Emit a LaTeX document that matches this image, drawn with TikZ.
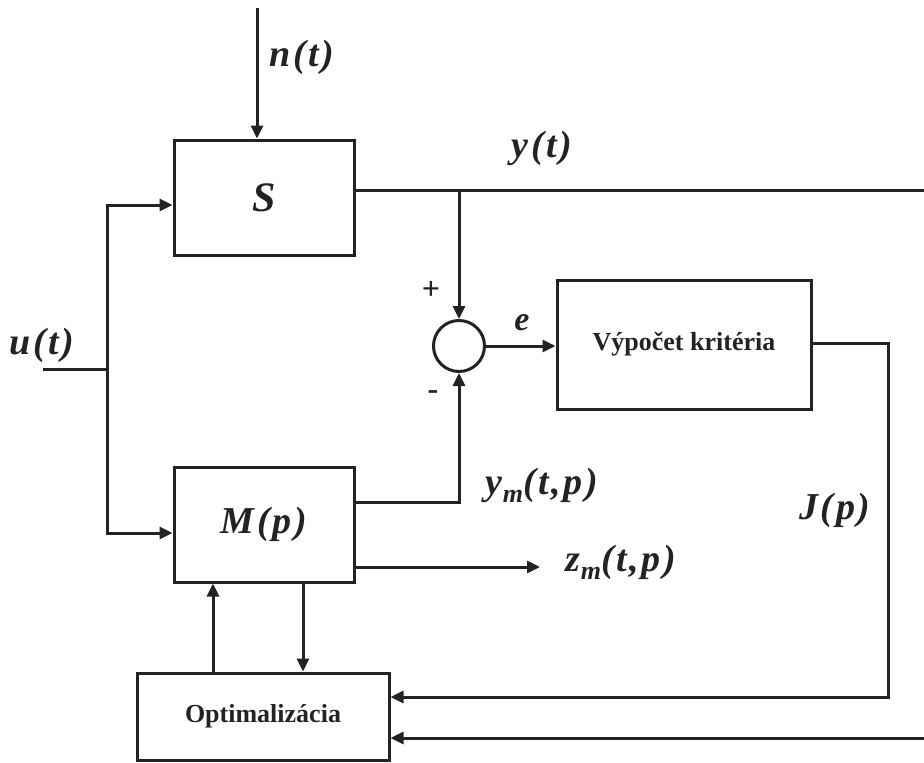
\documentclass[tikz,border=0pt]{standalone}
\usepackage{fontspec}
\setmainfont{Liberation Serif}
\usetikzlibrary{arrows.meta}
\definecolor{ink}{RGB}{35,35,35}
\newcommand{\lblfont}{\fontsize{38}{42}\selectfont\bfseries\itshape\addfontfeature{LetterSpace=7}}
\newcommand{\subm}{\raisebox{-0.22em}{\fontsize{26}{26}\selectfont m}}
\begin{document}
\begin{tikzpicture}[x=1pt,y=-1pt,
  every path/.style={draw=ink, line width=3pt},
  arr/.style={-{Triangle[length=13pt,width=12pt]}},
  blk/.style={draw=ink, line width=3pt, rectangle, inner sep=0pt, text=ink},
  lbl/.style={inner sep=0pt, text=ink, font=\lblfont},
  sgn/.style={inner sep=0pt, text=ink, font=\fontsize{32}{34}\selectfont\bfseries}
]
\useasboundingbox[draw=none] (0,0) rectangle (924,763);
% blocks
\node[blk, minimum width=180pt, minimum height=115pt, font=\fontsize{42}{44}\selectfont\bfseries\itshape] (S) at (264,197.5) {S};
\node[blk, minimum width=180pt, minimum height=115pt, font=\lblfont] (M) at (264,524.5) {M(p)};
\node[blk, minimum width=254pt, minimum height=129pt, font=\fontsize{26}{30}\selectfont\bfseries] (V) at (684,344.5) {Výpočet kritéria};
\node[blk, minimum width=252pt, minimum height=87pt, font=\fontsize{26}{30}\selectfont\bfseries] (O) at (263,716.5) {Optimalizácia};
\node[draw=ink, line width=3pt, circle, minimum size=51pt, inner sep=0pt] (sum) at (459,346) {};
% labels
\node[lbl] (ln) at (302,57) {n(t)};
\node[lbl] (lu) at (42,345) {u(t)};
\node[lbl] (ly) at (542,148) {y(t)};
\node[lbl] (lym) at (542,485) {y\subm(t,p)};
\node[lbl] (lzm) at (621,562) {z\subm(t,p)};
\node[lbl] (lJ) at (835,510) {J(p)};
\node[lbl, font=\fontsize{34}{36}\selectfont\bfseries\itshape] (le) at (522,323) {e};
\node[sgn] (lplus) at (431,290) {+};
\node[sgn] (lminus) at (433,395) {-};
% coordinates
\coordinate (nTop) at (257,8);
\coordinate (uIn) at (43,369);
\coordinate (uJ) at (107,369);
\coordinate (sIn) at (107,205);
\coordinate (mIn) at (107,533);
\coordinate (yR) at (924,190);
\coordinate (br) at (459,190);
\coordinate (ym) at (459,502);
\coordinate (zE) at (540,567);
\coordinate (jR) at (888,697);
\coordinate (bR) at (924,738);
\coordinate (upX) at (213,600);
\coordinate (dnX) at (303,600);
% connectors
\draw[arr] (nTop) -- (nTop |- S.north);
\draw (uIn) -- (uJ);
\draw[arr] (uJ) -- (sIn) -- (S.west |- sIn);
\draw[arr] (uJ) -- (mIn) -- (M.west |- mIn);
\draw (S.east |- yR) -- (yR);
\draw[arr] (br) -- (sum.north);
\draw[arr] (sum.east) -- (V.west |- sum.east);
\draw[arr] (M.east |- ym) -- (ym) -- (sum.south);
\draw[arr] (M.east |- zE) -- (zE);
\draw[arr] (V.east |- 0,343) -| (jR) -- (O.east |- jR);
\draw[arr] (bR) -- (O.east |- bR);
\draw[arr] (O.north -| upX) -- (M.south -| upX);
\draw[arr] (M.south -| dnX) -- (O.north -| dnX);
\end{tikzpicture}
\end{document}
